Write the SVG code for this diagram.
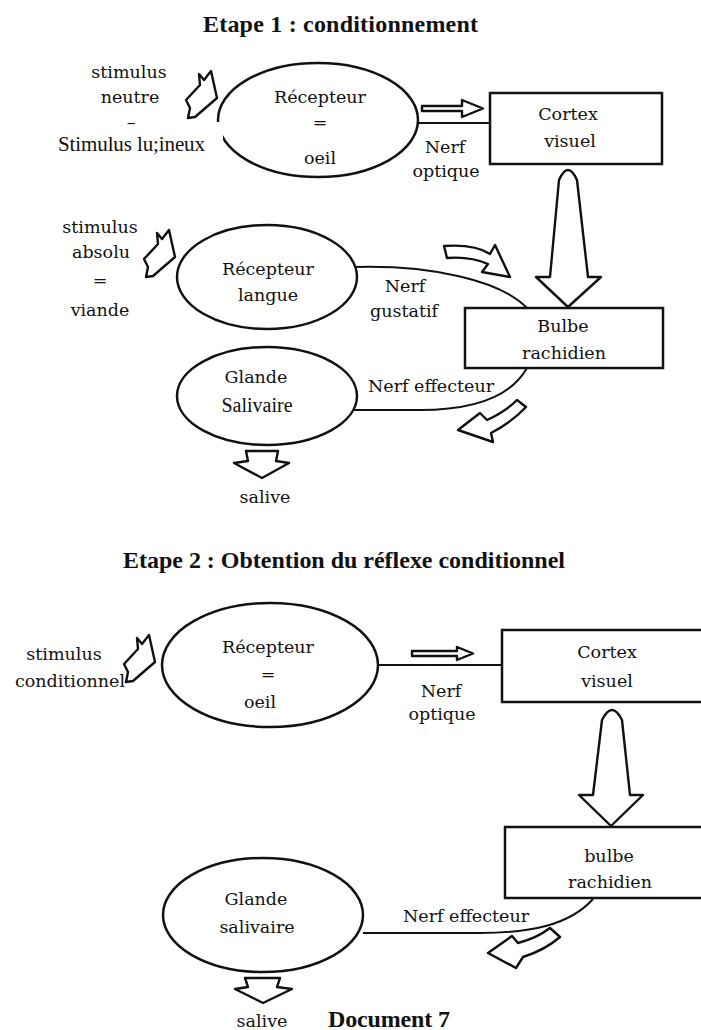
<svg xmlns="http://www.w3.org/2000/svg" width="701" height="1030" viewBox="0 0 701 1030">
<style>
.shape{fill:none;stroke:#111;stroke-width:2.5}
.box{fill:#fff;stroke:#111;stroke-width:2.5}
.line{fill:none;stroke:#111;stroke-width:2}
.blk{fill:#fff;stroke:#111;stroke-width:2.4;stroke-linejoin:round}
.t{font-family:"DejaVu Serif","Liberation Serif",serif;font-size:17.5px;fill:#111;text-anchor:middle}
.tn{font-family:"Liberation Serif","Times New Roman",serif;fill:#111}
.title{font-family:"Liberation Serif","Times New Roman",serif;font-weight:bold;font-size:24px;fill:#111}
</style>
<defs>
<path id="stim" d="M0 0 L5 6 L12 -3 L18 24 L-4 43 L-11 44 L-9 34 L-13 26 L1 11 Z"/>
</defs>
<rect width="701" height="1030" fill="#fff"/>

<text class="title" x="203" y="32" textLength="275">Etape 1 :  conditionnement</text>

<g id="connectors">
<!-- stage 1 -->
<line class="line" x1="418" y1="123" x2="490" y2="123"/>
<path class="blk" d="M422 106 L462 106 L462 100 L483 108.5 L462 117 L462 111 L422 111 Z"/>
<path class="line" d="M355 267 C430 265 500 280 527 308"/>
<path class="blk" d="M444 246 Q475 244 490 254 L495 245 L510 277 L482 272 L488 264 Q470 256 447 258 Z"/>
<path class="blk" d="M550 277 L559 180 Q568 160 577 180 L588 277 L601 277 L568 307 L536 277 Z"/>
<path class="line" d="M527 368 C510 398 470 410 420 410 L353 410"/>
<path class="blk" d="M517 400 Q505 412 487 420 L480 413 L458 430 L493 442 L491 433 Q512 422 526 407 Z"/>
<polygon class="blk" points="246,451 278,451 276,461 289,463 262,478 234,463 248,461"/>
<use href="#stim" class="blk" transform="translate(199,74)"/>
<use href="#stim" class="blk" transform="translate(157,233)"/>
<!-- stage 2 -->
<line class="line" x1="378" y1="665" x2="502" y2="665"/>
<path class="blk" d="M412 651 L457 651 L457 647 L473 653.5 L457 660 L457 656 L412 656 Z"/>
<path class="blk" d="M593 795 L602 720 Q612 700 622 720 L630 795 L643 795 L611 826 L579 795 Z"/>
<path class="line" d="M593 899 C570 925 530 933 480 933 L363 933"/>
<path class="blk" d="M550 928 Q537 938 518 943 L512 936 L488 953 L516 968 L523 957 Q545 950 560 937 Z"/>
<polygon class="blk" points="245,978 280,978 277,987 292,989 263,1003 235,989 248,987"/>
<use href="#stim" class="blk" transform="translate(137,638)"/>
</g>

<g id="recepteur-oeil-1">
<ellipse class="shape" cx="318" cy="120" rx="100" ry="57"/>
<text class="t" x="320" y="103">Récepteur</text>
<text class="t" x="320" y="128">=</text>
<text class="t" x="320" y="164">oeil</text>
</g>
<g id="stimulus-neutre">
<rect x="50" y="122" width="173" height="38" fill="#fff"/>
<text class="t" x="129" y="78">stimulus</text>
<text class="t" x="130" y="103">neutre</text>
<text class="t" x="131" y="128">–</text>
<text class="tn" x="58" y="151" font-size="21" textLength="147">Stimulus lu;ineux</text>
</g>
<g id="nerf-optique-1">
<text class="t" x="445" y="153">Nerf</text>
<text class="t" x="446" y="177">optique</text>
</g>
<g id="cortex-1">
<rect class="box" x="490" y="93" width="172" height="71"/>
<text class="t" x="568" y="120">Cortex</text>
<text class="t" x="570" y="147">visuel</text>
</g>
<g id="stimulus-absolu">
<text class="t" x="100" y="233">stimulus</text>
<text class="t" x="101" y="258">absolu</text>
<text class="t" x="100" y="286">=</text>
<text class="t" x="100" y="316">viande</text>
</g>
<g id="recepteur-langue">
<ellipse class="shape" cx="267" cy="277" rx="90" ry="52"/>
<text class="t" x="268" y="275">Récepteur</text>
<text class="t" x="268" y="301">langue</text>
</g>
<g id="nerf-gustatif">
<text class="t" x="405" y="292">Nerf</text>
<text class="t" x="404" y="317">gustatif</text>
</g>
<g id="bulbe-1">
<rect class="box" x="465" y="308" width="198" height="60"/>
<text class="t" x="563" y="332">Bulbe</text>
<text class="t" x="564" y="359">rachidien</text>
</g>
<g id="glande-1">
<ellipse class="shape" cx="267" cy="396" rx="90" ry="49"/>
<text class="t" x="256" y="383">Glande</text>
<text class="tn" x="257" y="412" font-size="20" text-anchor="middle">Salivaire</text>
</g>
<g id="nerf-effecteur-1">
<text class="t" x="431" y="392">Nerf effecteur</text>
</g>
<g id="salive-1">
<text class="t" x="265" y="503">salive</text>
</g>

<text class="title" x="123" y="568" textLength="442">Etape 2 : Obtention du réflexe conditionnel</text>

<g id="stimulus-conditionnel">
<text class="t" x="64" y="660">stimulus</text>
<text class="t" x="125" y="687" style="text-anchor:end">conditionnel</text>
</g>
<g id="recepteur-oeil-2">
<ellipse class="shape" cx="270" cy="665" rx="108" ry="62"/>
<text class="t" x="268" y="653">Récepteur</text>
<text class="t" x="268" y="680">=</text>
<text class="t" x="260" y="708">oeil</text>
</g>
<g id="nerf-optique-2">
<text class="t" x="441" y="697">Nerf</text>
<text class="t" x="442" y="720">optique</text>
</g>
<g id="cortex-2">
<rect class="box" x="502" y="630" width="230" height="72"/>
<text class="t" x="607" y="658">Cortex</text>
<text class="t" x="607" y="687">visuel</text>
</g>
<g id="bulbe-2">
<rect class="box" x="505" y="827" width="230" height="71"/>
<text class="t" x="609" y="862">bulbe</text>
<text class="t" x="610" y="888">rachidien</text>
</g>
<g id="glande-2">
<ellipse class="shape" cx="263" cy="915" rx="100" ry="57"/>
<text class="t" x="256" y="905">Glande</text>
<text class="t" x="257" y="933">salivaire</text>
</g>
<g id="nerf-effecteur-2">
<text class="t" x="466" y="922">Nerf effecteur</text>
</g>
<g id="salive-2">
<text class="t" x="262" y="1027">salive</text>
</g>
<text class="title" x="328" y="1027" font-size="22" textLength="122">Document 7</text>
</svg>
